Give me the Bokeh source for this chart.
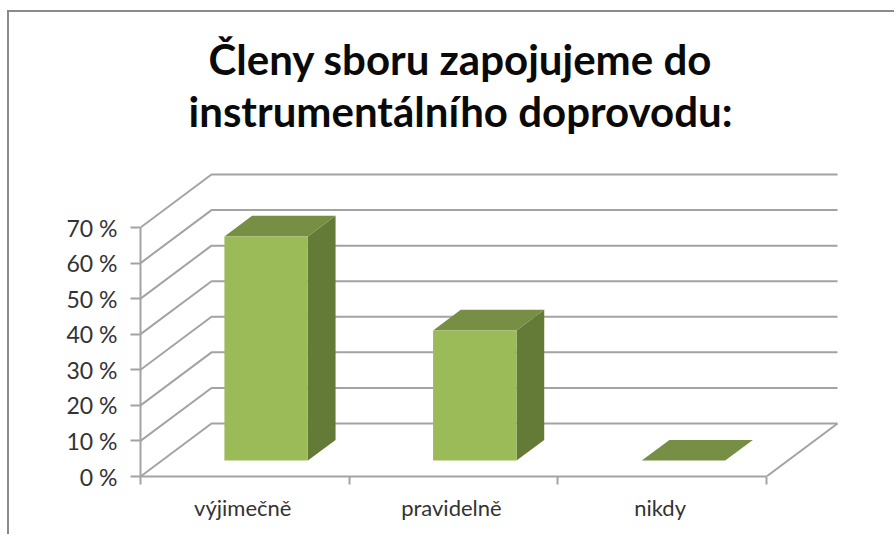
from bokeh.plotting import figure
from bokeh.embed import file_html
from bokeh.resources import INLINE
from bokeh.models import Range1d, FixedTicker
from bokeh.core.properties import value

title_lines = ["Členy sboru zapojujeme do", "instrumentálního doprovodu:"]
categories = ["výjimečně", "pravidelně", "nikdy"]
values = [63, 36.6, 0]
y_ticks = [0, 10, 20, 30, 40, 50, 60, 70]
y_labels = ["0 %", "10 %", "20 %", "30 %", "40 %", "50 %", "60 %", "70 %"]

FRONT = "#9bbb59"
TOP = "#768f45"
SIDE = "#647a37"
GRID = "#a3a3a3"
BORDER = "#8a8a8a"
TEXT = "#333333"

# page geometry
PX_X = 208.67   # pixels per category
PX_Y = 3.557    # pixels per percent
FX0, FY0 = 140, 476  # page pixel of data origin
FIG_L, FIG_T, W, H = 9, 12, 887, 524

# oblique 3-D projection, in data units
DX, DY = 71 / PX_X, 53 / PX_Y
GAP, BAR_W = 0.30, 0.40
D0, D1 = 0.30, 0.69


def proj(x, y, d):
    return x + d * DX, y + d * DY


p = figure(width=W, height=H, output_backend="svg", toolbar_location=None,
           x_range=Range1d(0, (FIG_L + W - FX0) / PX_X),
           y_range=Range1d(0, (FY0 - FIG_T) / PX_Y),
           min_border_left=FX0 - FIG_L, min_border_right=0, min_border_top=0,
           min_border_bottom=FIG_T + H - FY0,
           margin=(FIG_T, 0, 0, FIG_L),
           styles={"box-shadow": f"-2px -2px 0 0 {BORDER}"})
p.outline_line_color = None
p.grid.visible = False
p.background_fill_color = "white"

# back wall + side wall + floor lines
xs, ys = [], []
for t in y_ticks:
    a, b = proj(0, t, 0), proj(0, t, 1)
    c = proj(3, t, 1)
    xs.append([a[0], b[0], c[0]])
    ys.append([a[1], b[1], c[1]])
xs.append([3, proj(3, 0, 1)[0]])
ys.append([0, proj(3, 0, 1)[1]])
p.multi_line(xs, ys, line_color=GRID, line_width=2)

# bars
for i, v in enumerate(values):
    x0, x1 = i + GAP, i + GAP + BAR_W
    pts_front = [proj(x0, 0, D0), proj(x1, 0, D0), proj(x1, v, D0), proj(x0, v, D0)]
    pts_side = [proj(x1, 0, D0), proj(x1, 0, D1), proj(x1, v, D1), proj(x1, v, D0)]
    pts_top = [proj(x0, v, D0), proj(x1, v, D0), proj(x1, v, D1), proj(x0, v, D1)]
    for pts, col in ((pts_side, SIDE), (pts_top, TOP), (pts_front, FRONT)):
        p.patch([q[0] for q in pts], [q[1] for q in pts], fill_color=col, line_color=None)

# axes
ya = p.yaxis[0]
ya.ticker = FixedTicker(ticks=y_ticks)
ya.major_label_overrides = {t: s for t, s in zip(y_ticks, y_labels)}
ya.bounds = (0, 70)
ya.axis_line_color = GRID
ya.axis_line_width = 2
ya.major_tick_line_color = GRID
ya.major_tick_line_width = 2
ya.major_tick_out = 10
ya.major_tick_in = 0
ya.minor_tick_line_color = None
ya.major_label_standoff = 13
ya.major_label_text_font = "Lato"
ya.major_label_text_font_size = "23px"
ya.major_label_text_color = TEXT

xa = p.xaxis[0]
centres = [i + 0.49 for i in range(len(categories))]
xa.ticker = FixedTicker(ticks=centres, minor_ticks=[0, 1, 2, 3])
xa.major_label_overrides = {c: s for c, s in zip(centres, categories)}
xa.bounds = (0, 3)
xa.axis_line_color = GRID
xa.axis_line_width = 2
xa.major_tick_line_color = None
xa.major_tick_out = 0
xa.major_tick_in = 0
xa.minor_tick_line_color = GRID
xa.minor_tick_line_width = 2
xa.minor_tick_out = 8
xa.minor_tick_in = 0
xa.major_label_standoff = 9
xa.major_label_text_font = "Lato"
xa.major_label_text_font_size = "22px"
xa.major_label_text_color = TEXT

# title
p.text(x=[(460 - FX0) / PX_X] * 2, y=[(FY0 - 58) / PX_Y, (FY0 - 110) / PX_Y], text=title_lines,
       text_font=value("Lato"), text_font_style="bold", text_font_size="42px",
       text_color="#0a0a0a", text_align="center", text_baseline="middle")

open("out.html", "w").write(file_html(p, INLINE))
